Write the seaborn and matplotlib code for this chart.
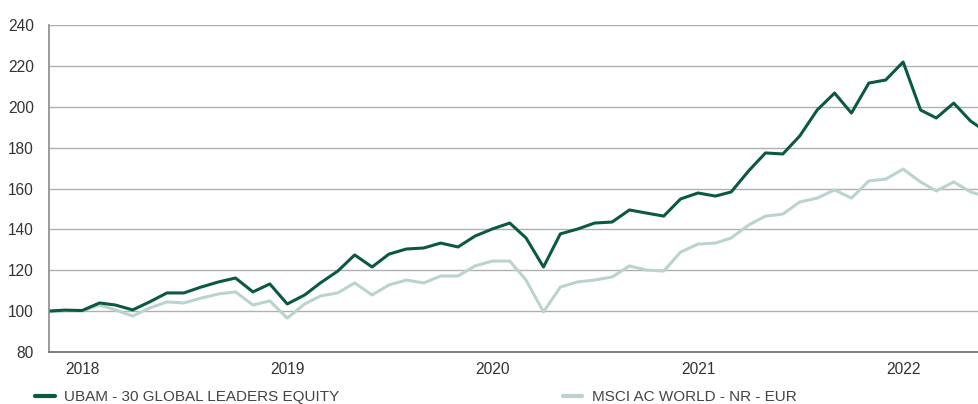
import matplotlib
matplotlib.use("Agg")
import matplotlib.pyplot as plt
import matplotlib.dates as mdates
import seaborn as sns
import pandas as pd

# monthly values, Nov 2017 .. Jun 2022
months = pd.date_range("2017-11-01", "2022-06-01", freq="MS")

ubam = [100.0, 100.5, 100.3, 104.0, 103.0, 100.6, 104.5, 108.9, 108.9, 111.8,
        114.3, 116.2, 109.4, 113.3, 103.5, 107.9, 113.8, 119.6, 127.5, 121.6,
        127.9, 130.4, 130.9, 133.3, 131.4, 136.7, 140.2, 143.1, 135.8, 121.6,
        137.8, 140.2, 143.1, 143.6, 149.5, 148.0, 146.5, 154.9, 157.8, 156.3,
        158.3, 168.6, 177.4, 176.9, 185.7, 198.4, 206.7, 196.9, 211.6, 213.1,
        221.9, 198.4, 194.5, 201.8, 193.0, 187.2]

msci = [99.6, 100.1, 100.1, 103.0, 100.6, 97.6, 101.5, 104.5, 104.0, 106.4,
        108.4, 109.4, 103.0, 105.0, 96.6, 103.5, 107.4, 108.9, 113.8, 107.9,
        112.8, 115.2, 113.8, 117.2, 117.2, 122.1, 124.5, 124.5, 115.2, 99.6,
        111.8, 114.3, 115.2, 116.7, 122.1, 120.1, 119.6, 128.9, 132.8, 133.3,
        135.8, 142.1, 146.5, 147.5, 153.4, 155.3, 159.3, 155.3, 163.7, 164.6,
        169.5, 163.2, 158.8, 163.2, 158.3, 155.8]

series_names = ["UBAM - 30 GLOBAL LEADERS EQUITY", "MSCI AC WORLD - NR - EUR"]
colors = ["#0b5a3e", "#b9d5ca"]
years = [2018, 2019, 2020, 2021, 2022]
y_ticks = [80, 100, 120, 140, 160, 180, 200, 220, 240]

df = pd.concat([
    pd.DataFrame({"date": months, "value": ubam, "series": series_names[0]}),
    pd.DataFrame({"date": months, "value": msci, "series": series_names[1]}),
])

sns.set_style("white")
plt.rcParams["font.family"] = ["Liberation Sans", "DejaVu Sans"]

fig = plt.figure(figsize=(9.79, 4.04), dpi=100)
ax = fig.add_axes([0.05, 0.1287, 0.95, 0.8094])

sns.lineplot(data=df, x="date", y="value", hue="series",
             hue_order=series_names[::-1], palette=colors[::-1],
             linewidth=2.2, ax=ax, legend=False)
for ln in ax.get_lines():
    ln.set_solid_joinstyle("round")
    ln.set_solid_capstyle("round")

ax.set_ylim(80, 240)
ax.set_yticks(y_ticks)
ax.set_xlim(pd.Timestamp("2017-11-03"), pd.Timestamp("2022-05-16"))
ax.set_xticks([pd.Timestamp(f"{y}-01-01") for y in years])
ax.xaxis.set_major_formatter(mdates.DateFormatter("%Y"))
ax.set_xlabel("")
ax.set_ylabel("")

ax.grid(axis="y", color="#b0b0b0", linewidth=1)
ax.set_axisbelow(True)
for s in ["top", "right"]:
    ax.spines[s].set_visible(False)
ax.spines["left"].set_color("#8a8a8a")
ax.spines["left"].set_linewidth(1.2)
ax.spines["bottom"].set_color("#6a6a6a")
ax.spines["bottom"].set_linewidth(1.2)
ax.tick_params(axis="both", length=0, labelsize=11.2, colors="#333333")
ax.tick_params(axis="y", pad=11)
ax.tick_params(axis="x", pad=7)

handles = [plt.Line2D([], [], color=c, linewidth=3) for c in colors]
fig.legend(handles, series_names, loc="lower left", bbox_to_anchor=(0.022, -0.035),
           ncol=2, frameon=False, fontsize=11, handlelength=1.3, handletextpad=0.6,
           columnspacing=14.6, labelcolor="#444444")

fig.savefig("out.png", dpi=100)
